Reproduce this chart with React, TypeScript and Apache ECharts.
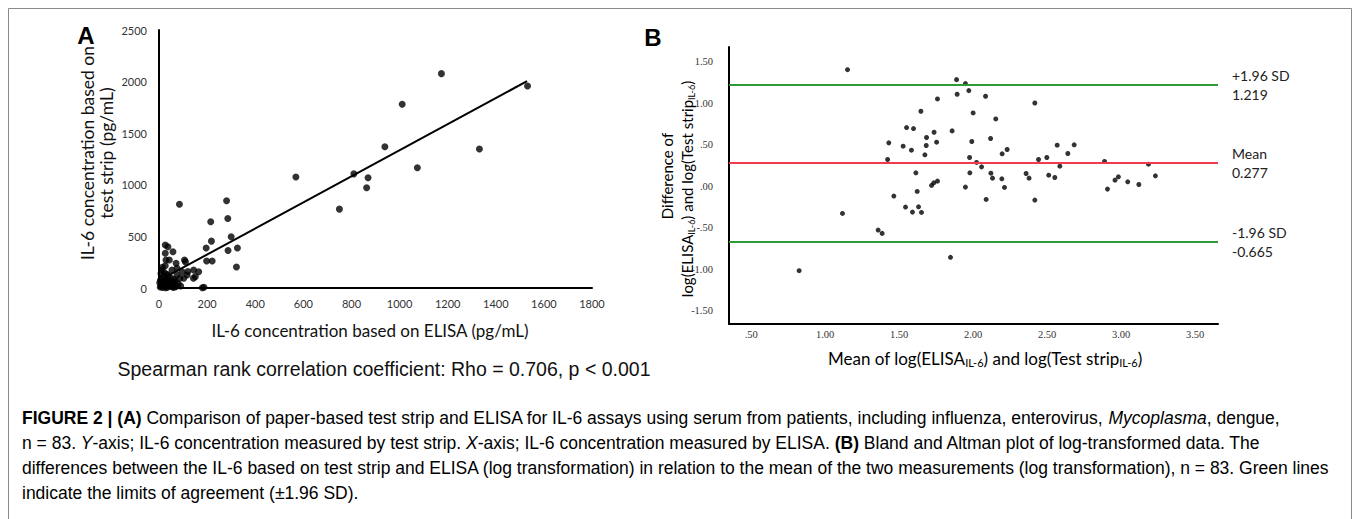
import React, { useEffect, useRef } from "react";
import * as echarts from "echarts";

// ---------- Panel A data: [ELISA (pg/mL), test strip (pg/mL)] ----------
const scatterA: number[][] = [
  [85, 811], [281, 845], [286, 673], [215, 642], [218, 454], [300, 496], [287, 363],
  [326, 388], [322, 203], [196, 388], [198, 262], [221, 262], [187, 7], [180, 3],
  [569, 1076], [750, 764], [810, 1106], [869, 1069], [863, 972], [939, 1369],
  [1011, 1780], [1074, 1166], [1174, 2077], [1332, 1347], [1532, 1957],
  [26, 417], [37, 400], [58, 352], [26, 336], [29, 271], [43, 271], [71, 239],
  [106, 271], [110, 253], [26, 216], [12, 174], [54, 174], [75, 191], [96, 158],
  [117, 126], [144, 174], [165, 158], [151, 110], [103, 94], [75, 126], [33, 133],
  [87, 94], [143, 94], [5, 10], [10, 30], [15, 5], [20, 60], [25, 20], [30, 45],
  [35, 8], [40, 80], [45, 30], [50, 15], [55, 55], [60, 5], [65, 35], [70, 12],
  [12, 90], [18, 110], [8, 140], [22, 150], [38, 120], [48, 100], [62, 85], [3, 50],
  [28, 2], [42, 60], [52, 40], [68, 65], [16, 25], [33, 70], [6, 75], [57, 20],
  [80, 40], [90, 20], [14, 200], [120, 160],
];
const fitLineA: number[][] = [[20, 97], [1530, 2004]];
const xTicksA = [0, 200, 400, 600, 800, 1000, 1200, 1400, 1600, 1800];
const yTicksA = [0, 500, 1000, 1500, 2000, 2500];

// ---------- Panel B data: [mean of logs, difference of logs] ----------
const blandAltman: number[][] = [
  [1.151, 1.402], [0.824, -1.018], [1.117, -0.329], [1.358, -0.529], [1.385, -0.569],
  [1.43, 0.521], [1.422, 0.321], [1.464, -0.12], [1.527, 0.481], [1.55, 0.705],
  [1.597, 0.693], [1.583, 0.433], [1.647, 0.901], [1.613, 0.16], [1.622, -0.064],
  [1.543, -0.252], [1.59, -0.313], [1.631, -0.249], [1.651, -0.317], [1.674, 0.377],
  [1.683, 0.489], [1.685, 0.585], [1.736, 0.649], [1.753, 0.529], [1.759, 1.05],
  [1.719, 0.008], [1.734, 0.04], [1.759, 0.06], [1.847, -0.857],
  [1.888, 1.282], [1.948, 1.234], [1.892, 1.106], [1.971, 1.15], [2.084, 1.082],
  [2.417, 1.001], [2.0, 0.881], [2.153, 0.809], [1.858, 0.665], [2.118, 0.573],
  [1.991, 0.537], [2.568, 0.493], [2.683, 0.497], [2.64, 0.393], [2.23, 0.441],
  [2.196, 0.389], [1.976, 0.345], [2.442, 0.321], [2.498, 0.345], [2.023, 0.285],
  [2.057, 0.232], [2.586, 0.24], [2.888, 0.297], [3.185, 0.264], [1.978, 0.16],
  [2.12, 0.156], [2.131, 0.096], [2.194, 0.088], [2.358, 0.152], [2.378, 0.096],
  [2.511, 0.132], [2.552, 0.104], [3.232, 0.124], [2.982, 0.112], [2.959, 0.072],
  [3.045, 0.052], [3.12, 0.02], [2.908, -0.036], [1.948, -0.012], [2.212, -0.016],
  [2.088, -0.16], [2.417, -0.168],
];
const upperLoA = 1.219;
const meanDiff = 0.277;
const lowerLoA = -0.665;
const xTicksB = [0.5, 1.0, 1.5, 2.0, 2.5, 3.0, 3.5];
const yTicksB = [-1.5, -1.0, -0.5, 0, 0.5, 1.0, 1.5];

const spssFmt = (v: number) => {
  let s = Math.abs(v).toFixed(2);
  if (s.startsWith("0")) s = s.slice(1);
  return (v < 0 ? "-" : "") + s;
};
const plainFmt = (v: number) => String(v);

const SANS = "Lato";
const CAP = '"Liberation Sans", Arial, sans-serif';

export default function App() {
  const ref = useRef<HTMLDivElement>(null);
  useEffect(() => {
    if (!ref.current) return;
    const chart = echarts.init(ref.current, null, { renderer: "svg" });
    const subRich = (fs: number, lh: number) => ({
      n: { fontFamily: SANS, fontSize: fs, lineHeight: lh, color: "#111", verticalAlign: "middle" },
      s: { fontFamily: SANS, fontSize: Math.round(fs * 0.62), lineHeight: Math.round(fs * 0.62), color: "#111", verticalAlign: "bottom" },
    });
    const CFS = 17.5;
    const capRich = {
      n: { fontFamily: CAP, fontSize: CFS, color: "#2a2a2a" },
      b: { fontFamily: CAP, fontSize: CFS, color: "#000", fontWeight: "bold" },
      i: { fontFamily: CAP, fontSize: CFS, color: "#2a2a2a", fontStyle: "italic" },
    };
    const option: any = {
      animation: false,
      backgroundColor: "#fff",
      grid: [
        { left: 159, top: 30, width: 433, height: 258 },
        { left: 729, top: 47, width: 489, height: 277 },
      ],
      xAxis: [
        {
          gridIndex: 0, type: "value", min: xTicksA[0], max: xTicksA[xTicksA.length - 1], interval: 200,
          axisLine: { lineStyle: { color: "#000", width: 2 } },
          axisTick: { show: false }, splitLine: { show: false },
          axisLabel: { formatter: plainFmt, color: "#333", fontFamily: SANS, fontSize: 11, margin: 10 },
        },
        {
          gridIndex: 1, type: "value", min: 0.35, max: 3.655,
          axisLine: { onZero: false, lineStyle: { color: "#000", width: 2 } },
          axisTick: { show: false }, splitLine: { show: false },
          axisLabel: {
            customValues: xTicksB, formatter: spssFmt, showMinLabel: true, showMaxLabel: true,
            color: "#333", fontFamily: "Liberation Serif", fontSize: 10.5, margin: 5,
          },
        },
      ],
      yAxis: [
        {
          gridIndex: 0, type: "value", min: yTicksA[0], max: yTicksA[yTicksA.length - 1], interval: 500,
          axisLine: { show: true, lineStyle: { color: "#000", width: 2 } },
          axisTick: { show: false }, splitLine: { show: false },
          axisLabel: { formatter: plainFmt, color: "#333", fontFamily: SANS, fontSize: 11, margin: 12 },
        },
        {
          gridIndex: 1, type: "value", min: -1.66, max: 1.675,
          axisLine: { show: true, onZero: false, lineStyle: { color: "#000", width: 2 } },
          axisTick: { show: false }, splitLine: { show: false },
          axisLabel: {
            customValues: yTicksB, formatter: spssFmt,
            color: "#333", fontFamily: "Liberation Serif", fontSize: 10.5, margin: 16,
          },
        },
      ],
      series: [
        {
          type: "scatter", xAxisIndex: 0, yAxisIndex: 0, data: scatterA,
          symbolSize: 7, itemStyle: { color: "#000" }, z: 3,
        },
        {
          type: "line", xAxisIndex: 0, yAxisIndex: 0, data: fitLineA,
          symbol: "none", lineStyle: { color: "#000", width: 2 }, z: 2,
        },
        {
          type: "scatter", xAxisIndex: 1, yAxisIndex: 1, data: blandAltman,
          symbolSize: 5, itemStyle: { color: "#000" }, z: 3,
          markLine: {
            silent: true, symbol: ["none", "none"],
            label: {
              position: "end", distance: 14, fontFamily: SANS, fontSize: 14,
              lineHeight: 19, color: "#222", align: "left",
            },
            data: [
              { yAxis: upperLoA, lineStyle: { color: "#2e9a35", width: 2, type: "solid" }, label: { formatter: "+1.96 SD\n" + upperLoA.toFixed(3) } },
              { yAxis: meanDiff, lineStyle: { color: "#f43a4f", width: 2, type: "solid" }, label: { formatter: "Mean\n" + meanDiff.toFixed(3) } },
              { yAxis: lowerLoA, lineStyle: { color: "#2e9a35", width: 2, type: "solid" }, label: { formatter: "-1.96 SD\n" + lowerLoA.toFixed(3) } },
            ],
          },
        },
      ],
      graphic: [
        {
          type: "polyline", silent: true,
          shape: { points: [[8.5, 530], [8.5, 8.5], [1351.5, 8.5], [1351.5, 530]] },
          style: { stroke: "#8a8a8a", lineWidth: 1, fill: "none" },
        },
        { type: "text", x: 86, y: 35, style: { text: "A", font: "bold 24px 'Liberation Sans', Arial", fill: "#000", align: "center", verticalAlign: "middle" } },
        { type: "text", x: 653, y: 37, style: { text: "B", font: "bold 24px 'Liberation Sans', Arial", fill: "#000", align: "center", verticalAlign: "middle" } },
        {
          type: "text", x: 97, y: 153, rotation: Math.PI / 2,
          style: { text: "IL-6 concentration based on\ntest strip (pg/mL)", font: `17.5px ${SANS}`, lineHeight: 19, fill: "#111", align: "center", verticalAlign: "middle" },
        },
        {
          type: "text", x: 370, y: 330,
          style: { text: "IL-6 concentration based on ELISA (pg/mL)", font: `17px ${SANS}`, fill: "#111", align: "center", verticalAlign: "middle" },
        },
        {
          type: "text", x: 384, y: 369,
          style: { text: "Spearman rank correlation coefficient: Rho = 0.706, p < 0.001", font: `19.5px ${CAP}`, fill: "#111", align: "center", verticalAlign: "middle" },
        },
        {
          type: "text", x: 667, y: 176, rotation: Math.PI / 2,
          style: { text: "{n|Difference of}", rich: subRich(15, 18), align: "center", verticalAlign: "middle" },
        },
        {
          type: "text", x: 687, y: 189, rotation: Math.PI / 2,
          style: { text: "{n|log(ELISA}{s|IL-6}{n|) and log(Test strip}{s|IL-6}{n|)}", rich: subRich(15, 18), align: "center", verticalAlign: "middle" },
        },
        {
          type: "text", x: 985, y: 358,
          style: { text: "{n|Mean of log(ELISA}{s|IL-6}{n|) and log(Test strip}{s|IL-6}{n|)}", rich: subRich(17, 20), align: "center", verticalAlign: "middle" },
        },
        {
          type: "text", x: 22, y: 418,
          style: { text: "{b|FIGURE 2 | (A)}{n| Comparison of paper-based test strip and ELISA for IL-6 assays using serum from patients, including influenza, enterovirus, }{i|Mycoplasma}{n|, dengue,}", rich: capRich, align: "left", verticalAlign: "middle" },
        },
        {
          type: "text", x: 22, y: 443,
          style: { text: "{n|n = 83. }{i|Y}{n|-axis; IL-6 concentration measured by test strip. }{i|X}{n|-axis; IL-6 concentration measured by ELISA. }{b|(B)}{n| Bland and Altman plot of log-transformed data. The}", rich: capRich, align: "left", verticalAlign: "middle" },
        },
        {
          type: "text", x: 22, y: 468,
          style: { text: "{n|differences between the IL-6 based on test strip and ELISA (log transformation) in relation to the mean of the two measurements (log transformation), n = 83. Green lines}", rich: capRich, align: "left", verticalAlign: "middle" },
        },
        {
          type: "text", x: 22, y: 493,
          style: { text: "{n|indicate the limits of agreement (±1.96 SD).}", rich: capRich, align: "left", verticalAlign: "middle" },
        },
      ],
    };
    chart.setOption(option);
    return () => chart.dispose();
  }, []);
  return (
    <div
      ref={ref}
      style={{ position: "fixed", left: 0, top: 0, width: 1356, height: 519, background: "#fff" }}
    />
  );
}
